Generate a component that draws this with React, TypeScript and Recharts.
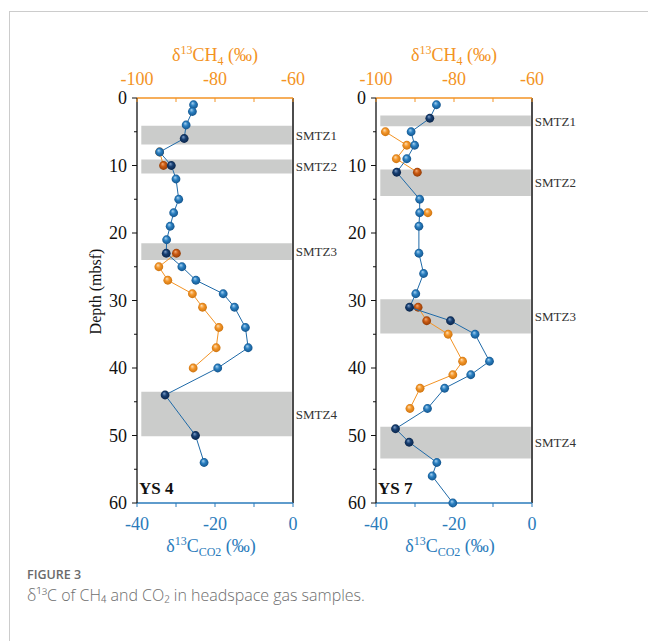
import React from 'react';
import { ScatterChart, Scatter, XAxis, YAxis, ReferenceArea, ReferenceLine, ReferenceDot } from 'recharts';

// depth in mbsf, values in permil
const ys4Co2Depth = [1, 2, 4, 6, 8, 10, 12, 15, 17, 19, 21, 23, 25, 27, 29, 31, 34, 37, 40, 44, 50, 54];
const ys4Co2 = [-25.5, -25.8, -27.4, -27.9, -34.2, -31.2, -30.0, -29.3, -30.6, -31.5, -32.4, -32.5, -28.5, -24.9, -17.9, -15.0, -12.2, -11.5, -19.3, -32.8, -25.0, -22.8];
const ys4Ch4DepthA = [8, 10];
const ys4Ch4A = [-94.2, -93.2];
const ys4Ch4DepthB = [23, 25, 27, 29, 31, 34, 37, 40];
const ys4Ch4B = [-89.9, -94.4, -92.1, -85.8, -83.2, -79.0, -79.7, -85.6];
const ys4Bands = [[4.1, 6.9], [9.1, 11.2], [21.5, 24.0], [43.5, 50.1]];

const ys7Co2Depth = [1, 3, 5, 7, 9, 11, 15, 17, 19, 23, 26, 29, 31, 33, 35, 39, 41, 43, 46, 49, 51, 54, 56, 60];
const ys7Co2 = [-24.5, -26.2, -31.0, -30.1, -32.1, -34.7, -28.8, -28.8, -29.0, -29.0, -27.8, -29.8, -31.4, -20.9, -14.6, -10.9, -15.7, -22.4, -26.8, -35.0, -31.5, -24.4, -25.6, -20.3];
const ys7Ch4DepthA = [5, 7, 9, 11];
const ys7Ch4A = [-97.6, -92.1, -94.8, -89.4];
const ys7Ch4DepthB = [17];
const ys7Ch4B = [-86.7];
const ys7Ch4DepthC = [31, 33, 35, 39, 41, 43, 46];
const ys7Ch4C = [-89.2, -87.0, -81.5, -77.8, -80.3, -88.7, -91.3];
const ys7Bands = [[2.6, 4.2], [10.6, 14.5], [29.8, 34.9], [48.7, 53.4]];

const bandLabels = ['SMTZ1', 'SMTZ2', 'SMTZ3', 'SMTZ4'];
const depthTicks = [0, 5, 10, 15, 20, 25, 30, 35, 40, 45, 50, 55, 60];
const co2Ticks = [-40, -30, -20, -10, 0];
const ch4Ticks = [-100, -90, -80, -70, -60];

const SERIF = "'Liberation Serif', 'Times New Roman', serif";
const ORANGE = '#f39324';
const BLUE = '#2a7bbb';
const BLUE_LINE = '#1f6aa8';
const TICK_FS = 18;

const inBand = (d: number, bands: number[][]) => bands.some(b => d >= b[0] && d <= b[1]);

const rows = (depths: number[], vals: number[], key: string, bands: number[][]) =>
  depths.map((d, i) => ({ depth: d, [key]: vals[i], dark: inBand(d, bands) }));

const ball = (light: string, dark: string) => (p: any) => {
  if (p.cx == null || p.cy == null) return null;
  const id = p.payload && p.payload.dark ? dark : light;
  return <circle cx={p.cx} cy={p.cy} r={4.4} fill={`url(#${id})`} />;
};

const DepthTick = (p: any) => {
  const v = p.payload.value;
  const major = v % 10 === 0;
  return (
    <g>
      <line x1={p.x - (major ? 5 : 3)} x2={p.x} y1={p.y} y2={p.y} stroke="#111" strokeWidth={1} />
      {major && (
        <text x={p.x - 10} y={p.y + 6} textAnchor="end" fontSize={TICK_FS} fontFamily={SERIF} fill="#111">{v}</text>
      )}
    </g>
  );
};

const TopTick = (p: any) => {
  const v = p.payload.value;
  const major = v % 20 === 0;
  return (
    <g>
      <line x1={p.x} x2={p.x} y1={p.y} y2={p.y + 4} stroke={ORANGE} strokeWidth={1} />
      {major && (
        <text x={p.x} y={p.y - 13} textAnchor="middle" fontSize={TICK_FS} fontFamily={SERIF} fill={ORANGE}>{v}</text>
      )}
    </g>
  );
};

const BottomTick = (p: any) => {
  const v = p.payload.value;
  const major = v % 20 === 0;
  return (
    <g>
      <line x1={p.x} x2={p.x} y1={p.y} y2={p.y + 4} stroke={BLUE} strokeWidth={1} />
      {major && (
        <text x={p.x} y={p.y + 27} textAnchor="middle" fontSize={TICK_FS} fontFamily={SERIF} fill={BLUE}>{v}</text>
      )}
    </g>
  );
};

const TopTitle = (p: any) => {
  const vb = p.viewBox || {};
  return (
    <text x={vb.x + vb.width / 2} y={vb.y - 7} textAnchor="middle" fontSize={18} fontFamily={SERIF} fill={ORANGE}>
      <tspan>δ</tspan>
      <tspan dy={-7} fontSize={12}>13</tspan>
      <tspan dy={7}>CH</tspan>
      <tspan dy={4} fontSize={12}>4</tspan>
      <tspan dy={-4}> (‰)</tspan>
    </text>
  );
};

const BottomTitle = (p: any) => {
  const vb = p.viewBox || {};
  return (
    <text x={vb.x + vb.width / 2 - 4} y={vb.y + 49} textAnchor="middle" fontSize={18} fontFamily={SERIF} fill={BLUE}>
      <tspan>δ</tspan>
      <tspan dy={-7} fontSize={12}>13</tspan>
      <tspan dy={7}>C</tspan>
      <tspan dy={4} fontSize={12}>CO2</tspan>
      <tspan dy={-4}> (‰)</tspan>
    </text>
  );
};

const DepthTitle = (p: any) => {
  const vb = p.viewBox || {};
  const cx = vb.x - 2;
  const cy = vb.y + vb.height / 2 - 9;
  return (
    <text x={cx} y={cy} transform={`rotate(-90 ${cx} ${cy})`} textAnchor="middle" dominantBaseline="central"
      fontSize={16} fontFamily={SERIF} fill="#111">Depth (mbsf)</text>
  );
};

function AxisTitle(p: any) {
  return p.kind === 'top' ? <TopTitle {...p} /> : <BottomTitle {...p} />;
}

interface PanelProps {
  name: string;
  co2: any[];
  ch4: any[][];
  bands: number[][];
  showDepthTitle: boolean;
}

const Panel: React.FC<PanelProps> = ({ name, co2, ch4, bands, showDepthTitle }) => (
  <ScatterChart width={345} height={560} margin={{ top: 68, left: 97, right: 52, bottom: 27 }}>
    <XAxis xAxisId="co2" dataKey="co2" type="number" domain={[-40, 0]} ticks={co2Ticks} interval={0}
      orientation="bottom" height={30} tickSize={0} tickMargin={0} tickLine={false}
      axisLine={{ stroke: BLUE, strokeWidth: 1.3 }} tick={<BottomTick />} label={<AxisTitle kind="bottom" />} />
    <XAxis xAxisId="ch4" dataKey="ch4" type="number" domain={[-100, -60]} ticks={ch4Ticks} interval={0}
      orientation="top" height={30} tickSize={0} tickMargin={0} tickLine={false}
      axisLine={{ stroke: ORANGE, strokeWidth: 1.3 }} tick={<TopTick />} label={<AxisTitle kind="top" />} />
    <YAxis yAxisId="d" dataKey="depth" type="number" domain={[0, 60]} reversed ticks={depthTicks} interval={0}
      width={40} tickSize={0} tickMargin={0} tickLine={false}
      axisLine={{ stroke: '#111', strokeWidth: 1.3 }} tick={<DepthTick />}
      label={showDepthTitle ? <DepthTitle /> : undefined} />
    {bands.map((b, i) => (
      <ReferenceArea key={i} xAxisId="co2" yAxisId="d" x1={-38.9} x2={-0.3} y1={b[0]} y2={b[1]}
        fill="#cbcccb" fillOpacity={1} stroke="none"
        label={{ value: bandLabels[i], position: 'right', offset: 4, fill: '#333', fontSize: 13, fontFamily: SERIF }} />
    ))}
    <ReferenceLine xAxisId="co2" yAxisId="d" x={0} stroke="#111" strokeWidth={1.5} />
    {ch4.map((seg, i) => (
      <Scatter key={'c' + i} xAxisId="ch4" yAxisId="d" data={seg} line={{ stroke: ORANGE, strokeWidth: 1 }}
        lineType="joint" shape={ball('orangeLight', 'orangeDark')} isAnimationActive={false} />
    ))}
    <Scatter xAxisId="co2" yAxisId="d" data={co2} line={{ stroke: BLUE_LINE, strokeWidth: 1 }}
      lineType="joint" shape={ball('blueLight', 'blueDark')} isAnimationActive={false} />
    <ReferenceDot xAxisId="co2" yAxisId="d" x={-40} y={57.8} r={1} fill="none" stroke="none"
      label={{ value: name, position: 'right', offset: 1, fill: '#111', fontSize: 17, fontWeight: 'bold', fontFamily: SERIF }} />
  </ScatterChart>
);

const Grad = ({ id, hi, base, edge }: { id: string; hi: string; base: string; edge: string }) => (
  <radialGradient id={id} cx="50%" cy="50%" r="55%" fx="38%" fy="30%">
    <stop offset="0%" stopColor={hi} />
    <stop offset="45%" stopColor={base} />
    <stop offset="100%" stopColor={edge} />
  </radialGradient>
);

export default function App() {
  const ys4co2 = rows(ys4Co2Depth, ys4Co2, 'co2', ys4Bands);
  const ys4ch4 = [rows(ys4Ch4DepthA, ys4Ch4A, 'ch4', ys4Bands), rows(ys4Ch4DepthB, ys4Ch4B, 'ch4', ys4Bands)];
  const ys7co2 = rows(ys7Co2Depth, ys7Co2, 'co2', ys7Bands);
  const ys7ch4 = [
    rows(ys7Ch4DepthA, ys7Ch4A, 'ch4', ys7Bands),
    rows(ys7Ch4DepthB, ys7Ch4B, 'ch4', ys7Bands),
    rows(ys7Ch4DepthC, ys7Ch4C, 'ch4', ys7Bands),
  ];
  return (
    <div style={{ position: 'absolute', left: 0, top: 0, width: 648, height: 641, background: '#fff', overflow: 'hidden' }}>
      <svg width={0} height={0} style={{ position: 'absolute' }}>
        <defs>
          <Grad id="blueLight" hi="#a9d3f2" base="#2a7fc0" edge="#114f86" />
          <Grad id="blueDark" hi="#7f9fc8" base="#173f72" edge="#0a2245" />
          <Grad id="orangeLight" hi="#fde0b5" base="#f4962a" edge="#c9700c" />
          <Grad id="orangeDark" hi="#f2ab75" base="#cb5a12" edge="#8c3906" />
        </defs>
      </svg>
      <div style={{ position: 'absolute', left: 9, top: 11, width: 639, height: 630, borderTop: '1px solid #ccc', borderLeft: '1px solid #ccc' }} />
      <div style={{ position: 'absolute', left: 0, top: 0 }}>
        <Panel name="YS 4" co2={ys4co2} ch4={ys4ch4} bands={ys4Bands} showDepthTitle />
      </div>
      <div style={{ position: 'absolute', left: 239, top: 0 }}>
        <Panel name="YS 7" co2={ys7co2} ch4={ys7ch4} bands={ys7Bands} showDepthTitle={false} />
      </div>
      <div style={{ position: 'absolute', left: 27, top: 569, fontFamily: "'Open Sans', sans-serif", fontSize: 12.5, fontWeight: 600, color: '#6a6a6a', lineHeight: '12px' }}>
        FIGURE 3
      </div>
      <div style={{ position: 'absolute', left: 27, top: 587, fontFamily: "'Open Sans', sans-serif", fontSize: 16, fontWeight: 300, color: '#6e6e6e', lineHeight: '16px', whiteSpace: 'nowrap' }}>
        δ¹³C of CH₄ and CO₂ in headspace gas samples.
      </div>
    </div>
  );
}
